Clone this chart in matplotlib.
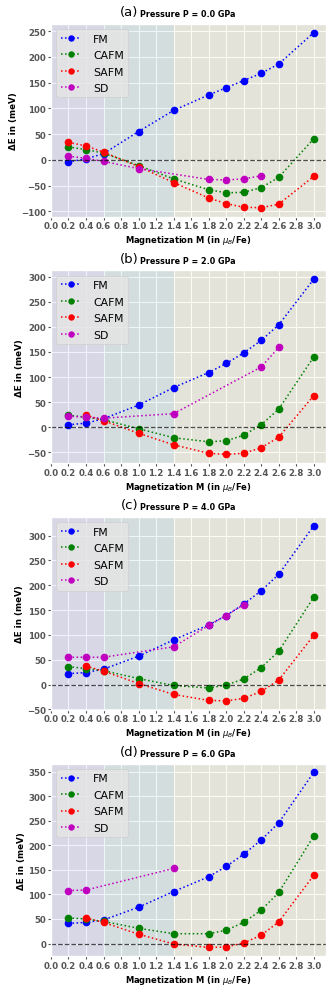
import numpy as np
import matplotlib
matplotlib.use("Agg")
import matplotlib.pyplot as plt

plt.style.use("ggplot")

M = [0.2, 0.4, 0.6, 1.0, 1.4, 1.8, 2.0, 2.2, 2.4, 2.6, 3.0]

# (a) P = 0.0 GPa
fm_a = [-4, 2, 12, 55, 96, 126, 140, 154, 168, 186, 247]
cafm_a = [25, 20, 13, -11, -37, -58, -64, -63, -54, -34, 41]
safm_a = [34, 27, 15, -13, -44, -74, -85, -92, -93, -86, -32]
sd_m_a = [0.2, 0.4, 0.6, 1.0, 1.8, 2.0, 2.2, 2.4]
sd_a = [7, 3, -3, -17, -38, -39, -37, -31]

# (b) P = 2.0 GPa
fm_b = [5, 8, 17, 44, 79, 109, 127, 148, 173, 204, 295]
cafm_b = [24, 20, 15, -3, -21, -29, -27, -16, 5, 36, 140]
safm_m_b = [0.4, 0.6, 1.0, 1.4, 1.8, 2.0, 2.2, 2.4, 2.6, 3.0]
safm_b = [24, 13, -12, -35, -52, -54, -52, -41, -20, 63]
sd_m_b = [0.2, 0.4, 0.6, 1.4, 2.4, 2.6]
sd_b = [22, 20, 18, 27, 120, 159]

# (c) P = 4.0 GPa
fm_c = [22, 24, 31, 57, 90, 120, 139, 162, 189, 222, 320]
cafm_c = [36, 32, 28, 12, -2, -7, -1, 11, 34, 67, 176]
safm_m_c = [0.4, 0.6, 1.0, 1.4, 1.8, 2.0, 2.2, 2.4, 2.6, 3.0]
safm_c = [37, 27, 2, -20, -32, -33, -28, -14, 9, 99]
sd_m_c = [0.2, 0.4, 0.6, 1.4, 1.8, 2.0, 2.2]
sd_c = [55, 55, 55, 76, 119, 139, 161]

# (d) P = 6.0 GPa
fm_d = [41, 43, 48, 74, 106, 136, 157, 182, 211, 246, 349]
cafm_d = [52, 50, 45, 31, 20, 20, 27, 43, 68, 104, 219]
safm_m_d = [0.4, 0.6, 1.0, 1.4, 1.8, 2.0, 2.2, 2.4, 2.6, 3.0]
safm_d = [52, 43, 19, -1, -8, -7, 1, 17, 44, 139]
sd_m_d = [0.2, 0.4, 1.4]
sd_d = [108, 109, 153]

panels = [
    ("(a)", "0.0", fm_a, cafm_a, M, safm_a, sd_m_a, sd_a),
    ("(b)", "2.0", fm_b, cafm_b, safm_m_b, safm_b, sd_m_b, sd_b),
    ("(c)", "4.0", fm_c, cafm_c, safm_m_c, safm_c, sd_m_c, sd_c),
    ("(d)", "6.0", fm_d, cafm_d, safm_m_d, safm_d, sd_m_d, sd_d),
]

fig, axes = plt.subplots(4, 1, figsize=(3.33, 9.95), dpi=100)
plt.subplots_adjust(left=0.153, right=0.979, top=0.975, bottom=0.038, hspace=0.28)

for ax, (tag, p, fm, cafm, safm_m, safm, sd_m, sd) in zip(axes, panels):
    # magnetic regimes
    ax.axvspan(0.0, 0.6, color="blue", alpha=0.06, lw=0)
    ax.axvspan(0.6, 1.4, color="teal", alpha=0.07, lw=0)
    ax.axvspan(1.4, 3.2, color="y", alpha=0.05, lw=0)
    ax.plot(M, fm, "bo:", ms=4.5, lw=1.1, label="FM")
    ax.plot(M, cafm, "go:", ms=4.5, lw=1.1, label="CAFM")
    ax.plot(safm_m, safm, "ro:", ms=4.5, lw=1.1, label="SAFM")
    ax.plot(sd_m, sd, "mo:", ms=4.5, lw=1.1, label="SD")
    ax.axhline(0, color="k", ls="--", lw=0.9, alpha=0.7)
    ax.set_xlim(0, 3.14)
    ax.set_xticks(np.arange(0, 3.01, 0.2))
    ax.set_xticklabels(["%.1f" % t for t in np.arange(0, 3.01, 0.2)])
    ax.tick_params(labelsize=6.2, length=2, pad=1.5)
    for lab in ax.get_xticklabels() + ax.get_yticklabels():
        lab.set_fontweight("bold")
    ax.set_xlabel(r"Magnetization M (in $\mu_B$/Fe)", fontsize=6, fontweight="bold",
                  color="k", labelpad=2)
    ax.set_ylabel("ΔE in (meV)", fontsize=6.3, fontweight="bold", color="k",
                  labelpad=2)
    ax.text(0.318, 1.03, tag, transform=ax.transAxes, ha="right", va="bottom",
            fontsize=9.5, color="k")
    ax.text(0.325, 1.03, "Pressure P = %s GPa" % p, transform=ax.transAxes,
            ha="left", va="bottom", fontsize=5.8, fontweight="bold", color="k")
    ax.legend(loc="upper left", fontsize=7.8, handlelength=1.9, borderpad=0.4,
              labelspacing=0.6, handletextpad=1.1, markerscale=0.8)

plt.savefig("out.png")
plt.close()
